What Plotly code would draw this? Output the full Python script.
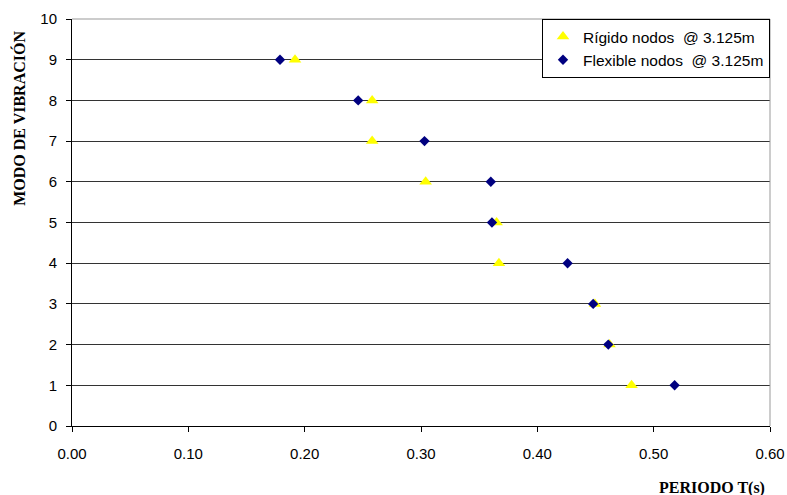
import plotly.graph_objects as go

modes = [1, 2, 3, 4, 5, 6, 7, 8, 9]
rigido = [0.481, 0.462, 0.4495, 0.367, 0.365, 0.304, 0.258, 0.258, 0.1917]
flexible = [0.518, 0.461, 0.448, 0.426, 0.361, 0.360, 0.303, 0.246, 0.1788]
xticks = [0.0, 0.1, 0.2, 0.3, 0.4, 0.5, 0.6]
xticktext = ["0.00", "0.10", "0.20", "0.30", "0.40", "0.50", "0.60"]
yticks = list(range(0, 11))

fig = go.Figure()
fig.add_trace(go.Scatter(
    x=rigido, y=modes, mode="markers", name="Rígido nodos  @ 3.125m",
    marker=dict(symbol="triangle-up", size=11, color="#FFFF00", line=dict(width=0)),
))
fig.add_trace(go.Scatter(
    x=flexible, y=modes, mode="markers", name="Flexible nodos  @ 3.125m",
    marker=dict(symbol="diamond", size=8, color="#000080", line=dict(width=0)),
))

fig.update_layout(
    width=787, height=495,
    margin=dict(l=72, r=17, t=19, b=69, autoexpand=False),
    paper_bgcolor="white", plot_bgcolor="white",
    font=dict(family="Liberation Sans, Arial", size=15, color="black"),
    showlegend=True,
    legend=dict(
        x=1, y=1, xanchor="right", yanchor="top",
        bgcolor="white", bordercolor="black", borderwidth=1,
        font=dict(family="Liberation Sans, Arial", size=15.5, color="black"),
        itemwidth=30, tracegroupgap=3,
    ),
    xaxis=dict(
        range=[0, 0.6], tickvals=xticks, ticktext=xticktext,
        showgrid=False, zeroline=False, automargin=False,
        showline=True, linecolor="black", linewidth=1,
        ticks="outside", ticklen=5, tickcolor="black",
        tickfont=dict(size=15), ticklabelstandoff=9,
    ),
    yaxis=dict(
        range=[0, 10], tickvals=yticks, automargin=False,
        showgrid=True, gridcolor="#333333", gridwidth=1,
        zeroline=False,
        showline=True, linecolor="black", linewidth=1,
        ticks="outside", ticklen=5, tickcolor="black",
        tickfont=dict(size=15), ticklabelstandoff=6,
    ),
    shapes=[
        dict(type="line", xref="paper", yref="paper", x0=0, x1=1, y0=1, y1=1,
             line=dict(color="#999999", width=1)),
        dict(type="line", xref="paper", yref="paper", x0=1, x1=1, y0=0, y1=1,
             line=dict(color="#999999", width=1)),
    ],
    annotations=[
        dict(text="<b>MODO DE VIBRACIÓN</b>", xref="paper", yref="paper",
             x=-0.076, y=0.757, xanchor="center", yanchor="middle", textangle=-90,
             showarrow=False, font=dict(family="Liberation Serif, Times New Roman", size=16)),
        dict(text="<b>PERIODO T(s)</b>", xref="paper", yref="paper",
             x=0.917, y=-0.152, xanchor="center", yanchor="middle",
             showarrow=False, font=dict(family="Liberation Serif, Times New Roman", size=16)),
    ],
)

fig.write_html("out.html")
